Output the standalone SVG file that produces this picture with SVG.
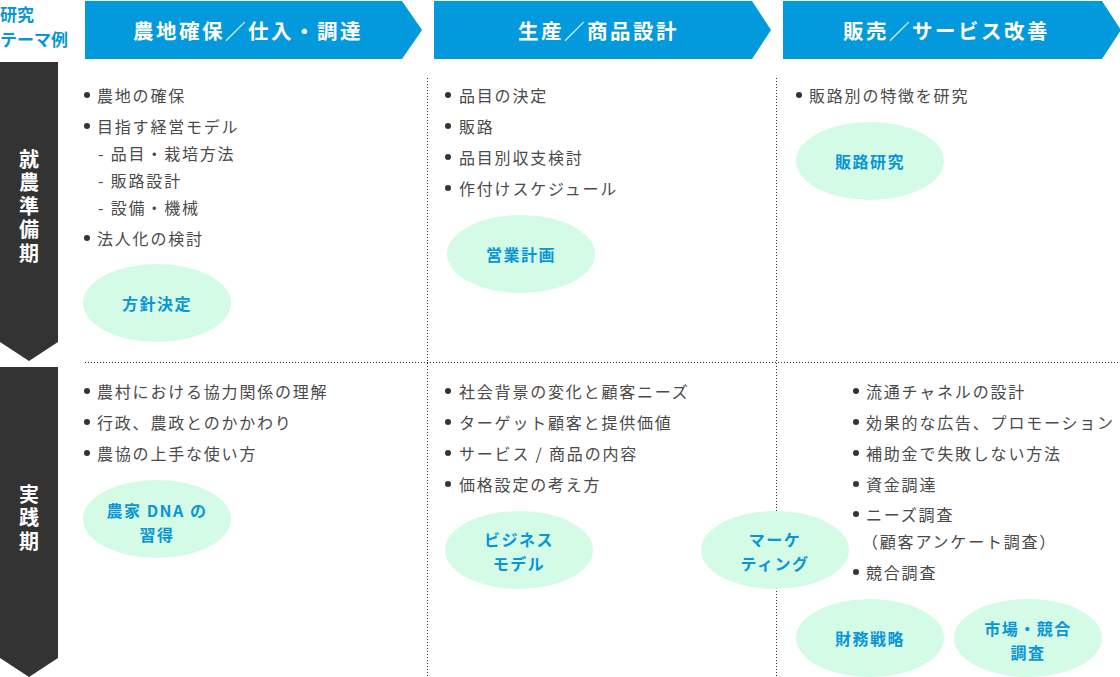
<svg xmlns="http://www.w3.org/2000/svg" width="1120" height="677" viewBox="0 0 1120 677">
<style>
.hd{fill:#0399dd}
.hdt{fill:#fff;font-family:"Noto Sans CJK JP","Noto Sans",sans-serif;font-weight:bold;font-size:20.5px;letter-spacing:2.5px}
.bar{fill:#333}
.bart{fill:#fff;font-family:"Noto Sans CJK JP","Noto Sans",sans-serif;font-weight:bold;font-size:20px;writing-mode:vertical-rl;letter-spacing:3.5px}
.lab{fill:#0a96d6;font-family:"Noto Sans CJK JP","Noto Sans",sans-serif;font-weight:bold;font-size:17px}
.t{fill:#4a4a4a;font-family:"Noto Sans CJK JP","Noto Sans",sans-serif;font-size:16px;letter-spacing:1.8px;dominant-baseline:central}
.b{fill:#333}
.el{fill:#d3fbe6}
.et{fill:#0a96d6;font-family:"Noto Sans CJK JP","Noto Sans",sans-serif;font-weight:bold;font-size:16px;letter-spacing:1.5px;text-anchor:middle;dominant-baseline:central}
.dot{stroke:#333;stroke-width:1;stroke-dasharray:1 2;fill:none}
</style>

<g id="connectors">
<line class="dot" x1="85" y1="362.5" x2="1120" y2="362.5"/>
<line class="dot" x1="427.5" y1="78" x2="427.5" y2="677"/>
<line class="dot" x1="776.5" y1="78" x2="776.5" y2="677"/>
</g>

<g id="label-theme">
<text class="lab" x="0" y="21">研究</text>
<text class="lab" x="0" y="46">テーマ例</text>
</g>

<g id="header-1">
<polygon class="hd" points="85,1 402,1 422,30 402,59 85,59"/>
<text class="hdt" x="133" y="39">農地確保／仕入・調達</text>
</g>
<g id="header-2">
<polygon class="hd" points="434,1 752,1 771,30 752,59 434,59"/>
<text class="hdt" x="518" y="39">生産／商品設計</text>
</g>
<g id="header-3">
<polygon class="hd" points="783,1 1102,1 1121,30 1102,59 783,59"/>
<text class="hdt" x="843" y="39">販売／サービス改善</text>
</g>

<g id="phase-1">
<polygon class="bar" points="0,62 58,62 58,342 29,361 0,342"/>
<text class="bart" x="29" y="149">就農準備期</text>
</g>
<g id="phase-2">
<polygon class="bar" points="0,367 58,367 58,658 29,677 0,658"/>
<text class="bart" x="29" y="484">実践期</text>
</g>

<g id="col1-prep">
<circle class="b" cx="87" cy="95" r="3"/><text class="t" x="97" y="95">農地の確保</text>
<circle class="b" cx="87" cy="126" r="3"/><text class="t" x="97" y="126">目指す経営モデル</text>
<text class="t" x="98" y="153">- 品目・栽培方法</text>
<text class="t" x="98" y="180">- 販路設計</text>
<text class="t" x="98" y="207">- 設備・機械</text>
<circle class="b" cx="87" cy="238" r="3"/><text class="t" x="97" y="238">法人化の検討</text>
</g>
<g id="node-houshin">
<ellipse class="el" cx="157" cy="303" rx="74" ry="39"/>
<text class="et" x="157" y="303">方針決定</text>
</g>

<g id="col2-prep">
<circle class="b" cx="448" cy="95" r="3"/><text class="t" x="459" y="95">品目の決定</text>
<circle class="b" cx="448" cy="126" r="3"/><text class="t" x="459" y="126">販路</text>
<circle class="b" cx="448" cy="157" r="3"/><text class="t" x="459" y="157">品目別収支検討</text>
<circle class="b" cx="448" cy="188" r="3"/><text class="t" x="459" y="188">作付けスケジュール</text>
</g>
<g id="node-eigyo">
<ellipse class="el" cx="521" cy="254" rx="74" ry="39"/>
<text class="et" x="521" y="254">営業計画</text>
</g>

<g id="col3-prep">
<circle class="b" cx="799" cy="95" r="3"/><text class="t" x="809" y="95">販路別の特徴を研究</text>
</g>
<g id="node-hanro">
<ellipse class="el" cx="870" cy="161" rx="74" ry="39"/>
<text class="et" x="870" y="161">販路研究</text>
</g>

<g id="col1-prac">
<circle class="b" cx="87" cy="391" r="3"/><text class="t" x="97" y="391">農村における協力関係の理解</text>
<circle class="b" cx="87" cy="422" r="3"/><text class="t" x="97" y="422">行政、農政とのかかわり</text>
<circle class="b" cx="87" cy="453" r="3"/><text class="t" x="97" y="453">農協の上手な使い方</text>
</g>
<g id="node-dna">
<ellipse class="el" cx="157" cy="519" rx="74" ry="39"/>
<text class="et" x="157" y="510">農家 DNA の</text>
<text class="et" x="157" y="534">習得</text>
</g>

<g id="col2-prac">
<circle class="b" cx="448" cy="391" r="3"/><text class="t" x="459" y="391">社会背景の変化と顧客ニーズ</text>
<circle class="b" cx="448" cy="422" r="3"/><text class="t" x="459" y="422">ターゲット顧客と提供価値</text>
<circle class="b" cx="448" cy="453" r="3"/><text class="t" x="459" y="453">サービス / 商品の内容</text>
<circle class="b" cx="448" cy="484" r="3"/><text class="t" x="459" y="484">価格設定の考え方</text>
</g>
<g id="node-business">
<ellipse class="el" cx="519" cy="550" rx="74" ry="39"/>
<text class="et" x="519" y="539">ビジネス</text>
<text class="et" x="519" y="563">モデル</text>
</g>

<g id="node-marketing">
<ellipse class="el" cx="775" cy="550" rx="74" ry="39"/>
<text class="et" x="775" y="539">マーケ</text>
<text class="et" x="775" y="563">ティング</text>
</g>

<g id="col3-prac">
<circle class="b" cx="856" cy="391" r="3"/><text class="t" x="866" y="391">流通チャネルの設計</text>
<circle class="b" cx="856" cy="422" r="3"/><text class="t" x="866" y="422">効果的な広告、プロモーション</text>
<circle class="b" cx="856" cy="453" r="3"/><text class="t" x="866" y="453">補助金で失敗しない方法</text>
<circle class="b" cx="856" cy="484" r="3"/><text class="t" x="866" y="484">資金調達</text>
<circle class="b" cx="856" cy="514" r="3"/><text class="t" x="866" y="514">ニーズ調査</text>
<text class="t" x="862" y="541">（顧客アンケート調査）</text>
<circle class="b" cx="856" cy="572" r="3"/><text class="t" x="866" y="572">競合調査</text>
</g>
<g id="node-zaimu">
<ellipse class="el" cx="870" cy="638" rx="74" ry="39"/>
<text class="et" x="870" y="638">財務戦略</text>
</g>
<g id="node-shijo">
<ellipse class="el" cx="1028" cy="638" rx="74" ry="39"/>
<text class="et" x="1028" y="628">市場・競合</text>
<text class="et" x="1028" y="652">調査</text>
</g>
</svg>
